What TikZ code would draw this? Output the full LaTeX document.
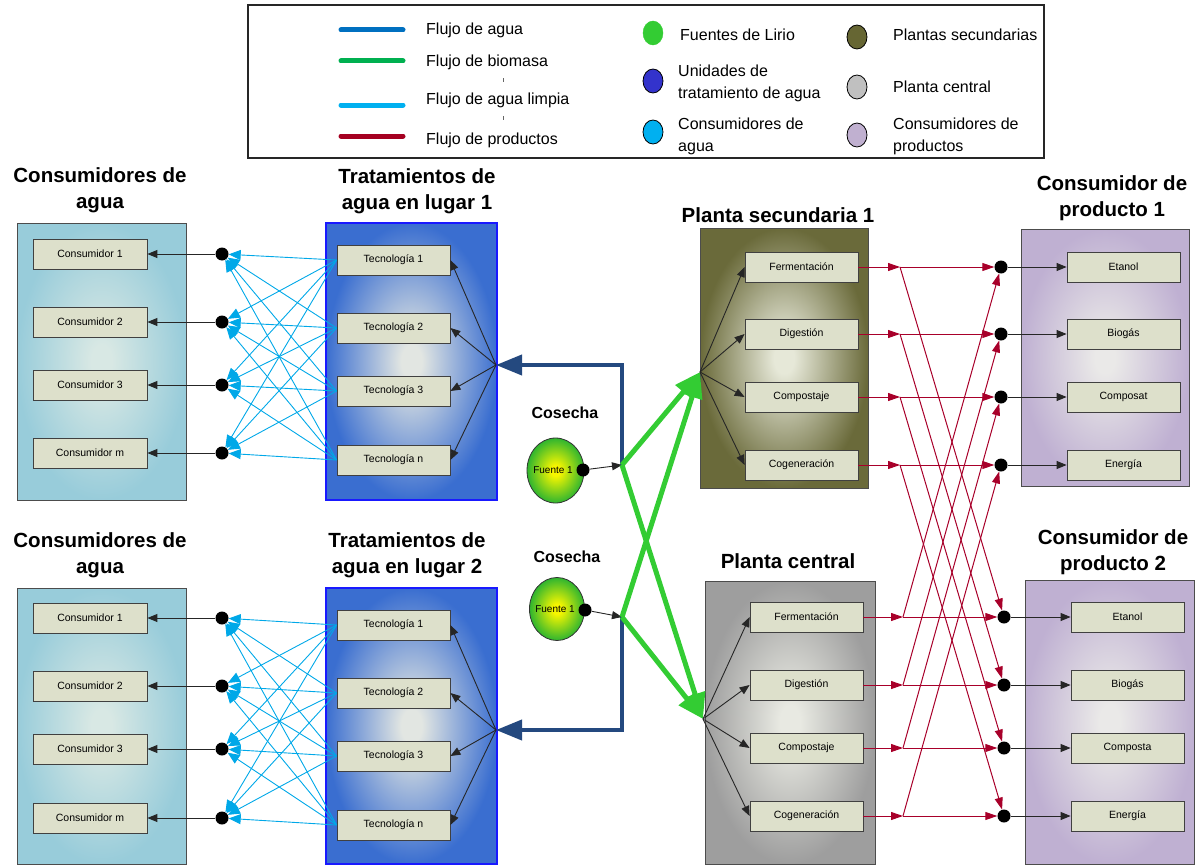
\documentclass[tikz,border=0pt]{standalone}
\usepackage{fontspec}
\setmainfont{Liberation Sans}
\usetikzlibrary{arrows.meta,shapes.geometric}

% panel and box colours
\definecolor{boxfill}{HTML}{DDE0CB}
\definecolor{wcOut}{HTML}{98CCDA}
\definecolor{wcIn}{HTML}{D8E8E4}
\definecolor{trOut}{HTML}{3A6ED0}
\definecolor{trIn}{HTML}{E2E6E2}
\definecolor{psOut}{HTML}{6A6A3A}
\definecolor{psIn}{HTML}{E6E8D8}
\definecolor{pcOut}{HTML}{9E9E9E}
\definecolor{pcIn}{HTML}{E8E9E2}
\definecolor{cpOut}{HTML}{BFB0D2}
\definecolor{cpIn}{HTML}{EAE9E8}
\definecolor{srcIn}{HTML}{F6F600}
\definecolor{srcOut}{HTML}{2FB52F}
% flow colours
\definecolor{waterblue}{HTML}{24497F}
\definecolor{biogreen}{HTML}{33CC33}
\definecolor{meshblue}{HTML}{00A8E8}
\definecolor{prodred}{HTML}{A8002A}
% legend colours
\definecolor{lgWater}{HTML}{0070C0}
\definecolor{lgBio}{HTML}{00B050}
\definecolor{lgClean}{HTML}{00B0F0}
\definecolor{lgProd}{HTML}{A50021}
\definecolor{lgSrc}{HTML}{33CC33}
\definecolor{lgTreat}{HTML}{3333CC}
\definecolor{lgCons}{HTML}{00B0F0}
\definecolor{lgSec}{HTML}{666633}
\definecolor{lgCen}{HTML}{C0C0C0}
\definecolor{lgProdC}{HTML}{C0B0D0}

% light-centred radial fills for the panels and sources
\pgfdeclareradialshading{wcshade}{\pgfpoint{0bp}{0bp}}{color(0bp)=(wcIn); color(3bp)=(wcIn); color(25bp)=(wcOut); color(50bp)=(wcOut)}
\pgfdeclareradialshading{trshade}{\pgfpoint{0bp}{0bp}}{color(0bp)=(trIn); color(3bp)=(trIn); color(25bp)=(trOut); color(50bp)=(trOut)}
\pgfdeclareradialshading{psshade}{\pgfpoint{0bp}{0bp}}{color(0bp)=(psIn); color(3bp)=(psIn); color(25bp)=(psOut); color(50bp)=(psOut)}
\pgfdeclareradialshading{pcshade}{\pgfpoint{0bp}{0bp}}{color(0bp)=(pcIn); color(3bp)=(pcIn); color(25bp)=(pcOut); color(50bp)=(pcOut)}
\pgfdeclareradialshading{cpshade}{\pgfpoint{0bp}{0bp}}{color(0bp)=(cpIn); color(3bp)=(cpIn); color(25bp)=(cpOut); color(50bp)=(cpOut)}
\pgfdeclareradialshading{srcshade}{\pgfpoint{0bp}{0bp}}{color(0bp)=(srcIn); color(4bp)=(srcIn); color(25bp)=(srcOut); color(50bp)=(srcOut)}

\begin{document}
\begin{tikzpicture}[x=1pt,y=-1pt,
  panel/.style={draw=black!70, line width=0.8pt, inner sep=0pt},
  box/.style={draw=black!75, line width=0.8pt, fill=boxfill, minimum width=113pt,
    minimum height=30pt, inner sep=0pt, font=\fontsize{10.5}{12}\selectfont},
  dot/.style={circle, fill=black, inner sep=0pt, minimum size=13pt},
  title/.style={font=\fontsize{20.5}{26}\selectfont\bfseries, align=center},
  lgtext/.style={anchor=west, font=\fontsize{16}{22}\selectfont, align=left, inner sep=0pt},
  blk/.style={draw=black!85, line width=0.9pt, -{Triangle[length=10pt,width=8pt]}},
  mesh/.style={draw=meshblue, line width=0.9pt, -{Triangle[length=12pt,width=10pt]}},
  prod/.style={draw=prodred, line width=1pt, -{Triangle[length=12pt,width=8pt]}},
  water/.style={draw=waterblue, line width=4pt, -{Triangle[length=26pt,width=20pt]}},
  bio/.style={draw=biogreen, line width=5pt, -{Triangle[length=26pt,width=20pt]}},
  src/.style={ellipse, draw=black!80, line width=0.8pt, shading=srcshade, inner sep=0pt,
    font=\fontsize{10}{12}\selectfont}
]
\useasboundingbox (0,0) rectangle (1199,867);

% ---------- legend ----------
\node[draw=black!85, line width=1.6pt, minimum width=796pt, minimum height=153pt,
  anchor=north west, inner sep=0pt] (legend) at (247,4) {};
\draw[lgWater, line width=5pt, line cap=round] (341,30) -- (403,30);
\draw[lgBio,   line width=5pt, line cap=round] (341,61) -- (403,61);
\draw[lgClean, line width=5pt, line cap=round] (341,105) -- (403,105);
\draw[lgProd,  line width=5pt, line cap=round] (341,136) -- (403,136);
\draw[black!60, line width=0.8pt] (503,78) -- (503,82);
\draw[black!60, line width=0.8pt] (503,116) -- (503,120);
\node[lgtext] (l1) at (426,30) {Flujo de agua};
\node[lgtext] (l2) at (426,62) {Flujo de biomasa};
\node[lgtext] (l3) at (426,100) {Flujo de agua limpia};
\node[lgtext] (l4) at (426,140) {Flujo de productos};
\draw[fill=lgSrc, draw=lgSrc] (653,33) ellipse [x radius=10, y radius=12];
\draw[fill=lgTreat, draw=black, line width=0.8pt] (653,81) ellipse [x radius=10, y radius=12];
\draw[fill=lgCons, draw=black, line width=0.8pt] (653,132) ellipse [x radius=10, y radius=12];
\draw[fill=lgSec, draw=black, line width=0.8pt] (857,37) ellipse [x radius=10, y radius=12];
\draw[fill=lgCen, draw=black, line width=0.8pt] (857,87) ellipse [x radius=10, y radius=12];
\draw[fill=lgProdC, draw=black, line width=0.8pt] (857,135) ellipse [x radius=10, y radius=12];
\node[lgtext] (l5) at (680,35) {Fuentes de Lirio};
\node[lgtext] (l6) at (678,83) {Unidades de\\tratamiento de agua};
\node[lgtext] (l7) at (678,136) {Consumidores de\\agua};
\node[lgtext] (l8) at (893,35) {Plantas secundarias};
\node[lgtext] (l9) at (893,87) {Planta central};
\node[lgtext] (l10) at (893,136) {Consumidores de\\productos};

% ---------- panels ----------
\node[panel, shading=wcshade, minimum width=169pt, minimum height=277pt] (wcA) at (101.5,361.5) {};
\node[panel, shading=trshade, draw=blue!90!white, line width=1.2pt, minimum width=171pt, minimum height=277pt] (trA) at (411.5,361.5) {};
\node[panel, shading=wcshade, minimum width=169pt, minimum height=276pt] (wcB) at (101.5,726) {};
\node[panel, shading=trshade, draw=blue!90!white, line width=1.2pt, minimum width=171pt, minimum height=276pt] (trB) at (411.5,726) {};
\node[panel, shading=psshade, minimum width=168pt, minimum height=260pt] (psA) at (784,358) {};
\node[panel, shading=pcshade, minimum width=170pt, minimum height=283pt] (pcB) at (790,722.5) {};
\node[panel, shading=cpshade, minimum width=168pt, minimum height=257pt] (cpA) at (1105,357.5) {};
\node[panel, shading=cpshade, minimum width=169pt, minimum height=284pt] (cpB) at (1109.5,722) {};

% ---------- titles ----------
\node[title] (tWcA) at (100,190) {Consumidores de\\agua};
\node[title] (tTrA) at (417,191) {Tratamientos de\\agua en lugar 1};
\node[title] (tWcB) at (100,555) {Consumidores de\\agua};
\node[title] (tTrB) at (407,555) {Tratamientos de\\agua en lugar 2};
\node[title] (tPsA) at (778,215) {Planta secundaria 1};
\node[title] (tPcB) at (788,561) {Planta central};
\node[title] (tCpA) at (1112,198) {Consumidor de\\producto 1};
\node[title] (tCpB) at (1113,552) {Consumidor de\\producto 2};

% ---------- water side: consumers, treatments ----------
\foreach \i/\y/\t in {1/254/Consumidor 1,2/322/Consumidor 2,3/385/Consumidor 3,4/453/Consumidor m}{
  \node[box, minimum width=114pt] (ca\i) at (90,\y) {\t};
  \node[dot] (da\i) at (222,\y) {};
}
\foreach \i/\y/\t in {1/618/Consumidor 1,2/686/Consumidor 2,3/749/Consumidor 3,4/818/Consumidor m}{
  \node[box, minimum width=114pt] (cb\i) at (90,\y) {\t};
  \node[dot] (db\i) at (222,\y) {};
}
\foreach \i/\y/\t in {1/260/Tecnología 1,2/328/Tecnología 2,3/391/Tecnología 3,4/460/Tecnología n}{
  \node[box] (ta\i) at (393.5,\y) {\t};
}
\foreach \i/\y/\t in {1/625/Tecnología 1,2/693/Tecnología 2,3/756/Tecnología 3,4/825/Tecnología n}{
  \node[box] (tb\i) at (393.5,\y) {\t};
}
\coordinate (fanA) at (496,365);
\coordinate (fanB) at (496,730);

% clean water mesh: every technology to every consumer
\foreach \i in {1,...,4}{
  \foreach \j in {1,...,4}{
    \draw[mesh] (ta\i.west) -- (da\j);
    \draw[mesh] (tb\i.west) -- (db\j);
  }
}
\foreach \i in {1,...,4}{
  \draw[blk] (da\i) -- (ca\i.east);
  \draw[blk] (db\i) -- (cb\i.east);
  \draw[blk] (fanA) -- (ta\i.east);
  \draw[blk] (fanB) -- (tb\i.east);
}

% ---------- harvest sources ----------
\node[font=\fontsize{16}{18}\selectfont\bfseries] (cosA) at (565,413) {Cosecha};
\node[font=\fontsize{16}{18}\selectfont\bfseries] (cosB) at (567,557) {Cosecha};
\node[src, minimum width=57pt, minimum height=65pt] (sA) at (555.5,470.5) {};
\node[font=\fontsize{10}{12}\selectfont] (sAt) at (553,470) {Fuente 1};
\node[src, minimum width=55pt, minimum height=63pt] (sB) at (557,609) {};
\node[font=\fontsize{10}{12}\selectfont] (sBt) at (555,609) {Fuente 1};
\node[dot] (sdA) at (583,470) {};
\node[dot] (sdB) at (585,610) {};
\coordinate (jA) at (622,465);
\coordinate (jB) at (622,617);
\draw[blk] (sdA) -- (jA);
\draw[blk] (sdB) -- (jB);

% water intake to the treatment sites
\draw[water] (jA) |- (fanA);
\draw[water] (jB) |- (fanB);

% ---------- plants ----------
\foreach \i/\y/\t in {1/267/Fermentación,2/334/Digestión,3/397/Compostaje,4/465/Cogeneración}{
  \node[box] (pa\i) at (801.5,\y) {\t};
  \coordinate (ja\i) at (900,\y);
  \node[dot] (ea\i) at (1001,\y) {};
}
\foreach \i/\y/\t in {1/617/Fermentación,2/685/Digestión,3/748/Compostaje,4/816/Cogeneración}{
  \node[box] (pb\i) at (806.5,\y) {\t};
  \coordinate (jb\i) at (903,\y);
  \node[dot] (eb\i) at (1004,\y) {};
}
\foreach \i/\y/\t in {1/267/Etanol,2/334/Biogás,3/397/Composat,4/465/Energía}{
  \node[box] (qa\i) at (1123.5,\y) {\t};
}
\foreach \i/\y/\t in {1/617/Etanol,2/685/Biogás,3/748/Composta,4/816/Energía}{
  \node[box] (qb\i) at (1127.5,\y) {\t};
}
\coordinate (pfanA) at (700,372);
\coordinate (pfanB) at (703,719);

% biomass to the plants
\draw[bio] (jA) -- (pfanA);
\draw[bio] (jA) -- (pfanB);
\draw[bio] (jB) -- (pfanA);
\draw[bio] (jB) -- (pfanB);

\foreach \i in {1,...,4}{
  \draw[blk] (pfanA) -- (pa\i.west);
  \draw[blk] (pfanB) -- (pb\i.west);
  % products to both consumer sites
  \draw[prod] (pa\i.east) -- (ja\i);
  \draw[prod] (pb\i.east) -- (jb\i);
  \draw[prod] (ja\i) -- (ea\i);
  \draw[prod] (ja\i) -- (eb\i);
  \draw[prod] (jb\i) -- (eb\i);
  \draw[prod] (jb\i) -- (ea\i);
  \draw[blk] (ea\i) -- (qa\i.west);
  \draw[blk] (eb\i) -- (qb\i.west);
}
\end{tikzpicture}
\end{document}
